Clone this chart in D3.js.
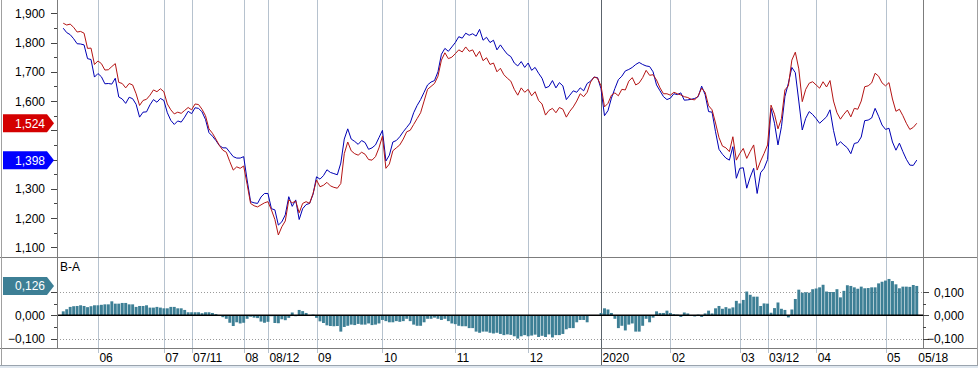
<!DOCTYPE html>
<html><head><meta charset="utf-8">
<script src="https://cdn.jsdelivr.net/npm/d3@7"></script>
<style>
body{margin:0;background:#fff;}
svg{display:block;}
text{font-family:"Liberation Sans",Arial,sans-serif;font-size:12px;}
</style>
</head><body>
<svg id="c" width="978" height="368"></svg>
<script>
// ---------- DATA ----------
const startDate = "2019-05-20";
const endDate = "2020-05-18";
const holidays = ["2019-06-06","2019-08-15","2019-09-12","2019-09-13","2019-10-03","2019-10-09",
  "2019-12-25","2020-01-01","2020-01-24","2020-01-27","2020-04-15","2020-04-30","2020-05-01","2020-05-05"];

// B (red)
const seriesB = [
1866,1860,1863,1852,1836,1838,1832,1780,1781,1725,
1737,1728,1706,1707,1718,1728,1664,1660,1645,1660,
1655,1625,1585,1602,1606,1620,1638,1632,1642,1632,
1590,1570,1556,1562,1558,1568,1578,1570,1590,1588,
1572,1550,1505,1490,1470,1448,1432,1425,1393,1364,
1375,1370,1378,1315,1250,1242,1238,1245,1252,1256,
1228,1195,1142,1170,1190,1262,1252,1258,1218,1250,
1256,1250,1284,1330,1307,1312,1322,1310,1305,1302,
1318,1420,1460,1430,1420,1415,1425,1418,1400,1398,
1410,1440,1480,1370,1385,1430,1440,1450,1470,1495,
1500,1520,1540,1560,1600,1640,1650,1660,1685,1740,
1765,1745,1750,1762,1775,1768,1785,1770,1775,1752,
1770,1738,1748,1725,1730,1700,1712,1690,1678,1668,
1640,1620,1645,1630,1640,1618,1632,1602,1590,1552,
1568,1575,1560,1578,1572,1545,1565,1580,1600,1625,
1615,1630,1665,1682,1678,1652,1580,1592,1620,1628,
1618,1640,1638,1668,1680,1655,1662,1680,1705,1688,
1690,1672,1645,1625,1625,1620,1630,1625,1621,1615,
1612,1606,1604,1618,1644,1630,1584,1570,1525,1475,
1446,1440,1427,1478,1398,1421,1438,1404,1428,1450,
1364,1395,1421,1450,1586,1555,1505,1540,1638,1652,
1740,1767,1710,1598,1640,1661,1666,1655,1644,1666,
1648,1670,1600,1560,1538,1555,1569,1546,1575,1572,
1600,1649,1652,1662,1695,1685,1662,1652,1663,1607,
1565,1572,1550,1524,1503,1510,1524
];
// A (blue)
const seriesA = [
1849,1834,1827,1813,1796,1795,1792,1745,1742,1682,
1694,1683,1659,1660,1658,1678,1614,1607,1592,1613,
1608,1589,1545,1562,1563,1587,1605,1596,1609,1602,
1560,1534,1520,1532,1528,1545,1565,1557,1577,1575,
1563,1537,1492,1480,1465,1448,1440,1440,1425,1410,
1405,1405,1410,1330,1256,1252,1250,1272,1284,1284,
1232,1228,1176,1187,1211,1273,1240,1262,1195,1232,
1246,1250,1281,1341,1333,1345,1365,1356,1352,1348,
1388,1470,1505,1470,1462,1452,1465,1458,1435,1440,
1450,1475,1500,1395,1415,1460,1465,1478,1495,1510,
1525,1560,1585,1605,1630,1655,1665,1670,1700,1760,
1780,1770,1785,1800,1820,1815,1832,1825,1830,1822,
1845,1808,1818,1800,1808,1775,1792,1775,1760,1752,
1730,1720,1735,1715,1730,1705,1715,1695,1678,1645,
1650,1670,1645,1663,1652,1605,1620,1635,1630,1645,
1635,1660,1668,1682,1680,1642,1550,1567,1610,1643,
1673,1685,1703,1708,1715,1725,1732,1725,1720,1718,
1700,1655,1635,1615,1605,1610,1625,1622,1628,1603,
1604,1606,1609,1615,1651,1622,1564,1562,1495,1435,
1418,1405,1398,1444,1336,1370,1372,1302,1340,1370,
1284,1355,1370,1400,1575,1524,1450,1512,1615,1661,
1715,1697,1600,1501,1541,1564,1554,1540,1524,1535,
1546,1570,1500,1448,1461,1450,1440,1420,1455,1458,
1477,1533,1535,1542,1575,1548,1518,1503,1507,1460,
1432,1456,1427,1401,1381,1380,1398
];
const priceTicks = [1100,1200,1300,1400,1500,1600,1700,1800,1900];
const diffTicks = [-0.1, 0, 0.1];
const dateTicks = [
  {date:"2019-06-03",label:"06"},{date:"2019-07-01",label:"07"},{date:"2019-07-11",label:"07/11"},
  {date:"2019-08-01",label:"08"},{date:"2019-08-12",label:"08/12"},{date:"2019-09-02",label:"09"},
  {date:"2019-10-01",label:"10"},{date:"2019-11-01",label:"11"},{date:"2019-12-02",label:"12"},
  {date:"2020-01-02",label:"2020"},{date:"2020-02-03",label:"02"},{date:"2020-03-02",label:"03"},
  {date:"2020-03-12",label:"03/12"},{date:"2020-04-01",label:"04"},{date:"2020-05-04",label:"05"},
  {date:"2020-05-18",label:"05/18"}
];
const panelTitle = "B-A";

// ---------- TRADING DAYS ----------
const fmt = d3.utcFormat("%Y-%m-%d");
const hol = new Set(holidays);
const dates = d3.utcDays(new Date(startDate+"T00:00:00Z"), d3.utcDay.offset(new Date(endDate+"T00:00:00Z"),1))
  .filter(d => d.getUTCDay()!==0 && d.getUTCDay()!==6 && !hol.has(fmt(d))).map(fmt);

const data = dates.map((d,i)=>({date:d, a:seriesA[i], b:seriesB[i], diff:(seriesB[i]-seriesA[i])/1000}));

// ---------- LAYOUT ----------
const svg = d3.select("#c");
const plotL = 57, plotR = 923, W = 978;
const sepY = 257, botY = 348;

const x = d3.scalePoint().domain(dates).range([plotL, plotR]).padding(1.8);
const yP = d3.scaleLinear().domain([1100,1900]).range([247.3,13.3]);
const yD = d3.scaleLinear().domain([-0.1,0.1]).range([338.6,292]);

const lineGrid = "#b6c2ce";
const last = data[data.length-1];
const boxCentersTop = [yP(last.b), yP(last.a)];
const boxCentersBot = [yD(last.diff)];
const hidden = (yy, centers) => centers.some(c => Math.abs(c-yy) < 13);

// bottom strip
svg.append("rect").attr("x",0).attr("y",365).attr("width",W).attr("height",3).attr("fill","#dfe7ef");
svg.append("line").attr("x1",0).attr("x2",W).attr("y1",365.5).attr("y2",365.5).attr("stroke","#9aa4ae");

// vertical grid
dateTicks.forEach(t=>{
  const xx = Math.round(x(t.date))+0.5;
  if (t.label==="05/18") return;
  const dark = t.label==="2020";
  svg.append("line").attr("x1",xx).attr("x2",xx).attr("y1",0).attr("y2",dark?365:353)
    .attr("stroke",dark?"#5c646c":lineGrid).attr("stroke-width",1);
});

// lower panel grid lines
[0.1,-0.1].forEach(v=>{
  svg.append("line").attr("x1",plotL).attr("x2",plotR).attr("y1",Math.round(yD(v))+0.5).attr("y2",Math.round(yD(v))+0.5)
    .attr("stroke","#9a9a9a").attr("stroke-dasharray","1,2");
});

// bars
const bw = x.step()*0.84;
svg.append("g").selectAll("rect").data(data).join("rect")
  .attr("x",d=>x(d.date)-bw/2).attr("width",bw)
  .attr("y",d=>yD(Math.max(0,d.diff))).attr("height",d=>Math.abs(yD(d.diff)-yD(0)))
  .attr("fill","#3d7f95");

// zero line
svg.append("line").attr("x1",plotL).attr("x2",plotR).attr("y1",yD(0)).attr("y2",yD(0))
  .attr("stroke","#000").attr("stroke-width",1.6);

// frame lines
const frame = "#7c7c7c";
svg.append("line").attr("x1",0).attr("x2",W).attr("y1",sepY+0.5).attr("y2",sepY+0.5).attr("stroke",frame);
svg.append("line").attr("x1",0).attr("x2",W).attr("y1",botY+0.5).attr("y2",botY+0.5).attr("stroke",frame);
svg.append("line").attr("x1",plotL+0.5).attr("x2",plotL+0.5).attr("y1",0).attr("y2",botY).attr("stroke",frame);
svg.append("line").attr("x1",plotR+0.5).attr("x2",plotR+0.5).attr("y1",0).attr("y2",botY).attr("stroke",frame);
svg.append("line").attr("x1",1.5).attr("x2",1.5).attr("y1",0).attr("y2",365).attr("stroke","#a0a0a0");
svg.append("line").attr("x1",977.5).attr("x2",977.5).attr("y1",0).attr("y2",365).attr("stroke","#a0a0a0");

// price axis
const fmtP = d3.format(",");
const gP = svg.append("g");
d3.range(1100,1901,50).forEach(v=>{
  const yy = Math.round(yP(v))+0.5;
  const major = priceTicks.includes(v);
  gP.append("line").attr("x1",major?51:54).attr("x2",plotL).attr("y1",yy).attr("y2",yy).attr("stroke","#444");
});
priceTicks.forEach(v=>{
  if (hidden(yP(v), boxCentersTop)) return; // covered by value box
  gP.append("text").attr("x",45).attr("y",yP(v)+4.5).attr("text-anchor","end").text(fmtP(v));
});

// diff axes
const fmtD = v => d3.format(".3f")(v).replace(".",",");
[-0.1,-0.05,0,0.05,0.1].forEach(v=>{
  const yy = Math.round(yD(v))+0.5;
  const major = diffTicks.includes(v);
  svg.append("line").attr("x1",major?51:54).attr("x2",plotL).attr("y1",yy).attr("y2",yy).attr("stroke","#444");
  svg.append("line").attr("x1",plotR).attr("x2",major?plotR+6:plotR+3).attr("y1",yy).attr("y2",yy).attr("stroke","#444");
});
diffTicks.forEach(v=>{
  if (!hidden(yD(v), boxCentersBot))
    svg.append("text").attr("x",45).attr("y",yD(v)+4.5).attr("text-anchor","end").text(fmtD(v));
  svg.append("text").attr("x",964).attr("y",yD(v)+4.5).attr("text-anchor","end").text(fmtD(v));
});

// lines
const mk = key => d3.line().x(d=>x(d.date)).y(d=>yP(d[key]));
svg.append("path").datum(data).attr("d",mk("a")).attr("fill","none").attr("stroke","#0000b4").attr("stroke-width",1);
svg.append("path").datum(data).attr("d",mk("b")).attr("fill","none").attr("stroke","#b41414").attr("stroke-width",1);

// panel title
svg.append("text").attr("x",60).attr("y",271).text(panelTitle);

// x labels
dateTicks.forEach(t=>{
  svg.append("text").attr("x",x(t.date)+1.5).attr("y",362).text(t.label);
});

// value boxes
function box(cy, fill, txt){
  const h=9;
  svg.append("path").attr("d",`M3,${cy-h}H47L54,${cy}L47,${cy+h}H3Z`).attr("fill",fill);
  svg.append("text").attr("x",45).attr("y",cy+4.5).attr("text-anchor","end").attr("fill","#fff").text(txt);
}
box(yP(last.b), "#d40000", fmtP(last.b));
box(yP(last.a), "#0000ff", fmtP(last.a));
box(yD(last.diff), "#3d7f95", fmtD(last.diff));

if (dates.length!==seriesA.length || dates.length!==seriesB.length){
  svg.append("text").attr("x",300).attr("y",30).attr("fill","magenta").text("LEN "+dates.length+" "+seriesA.length+" "+seriesB.length);
}
</script>
</body></html>
